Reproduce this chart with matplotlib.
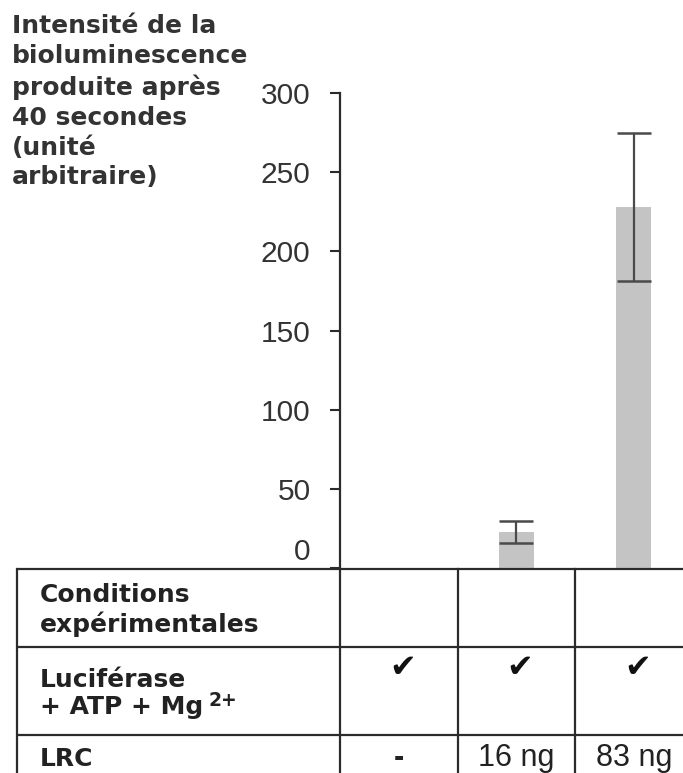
import matplotlib
matplotlib.use("Agg")
import matplotlib.pyplot as plt
import matplotlib.transforms as mtransforms
import numpy as np

# ---- data ----
conditions = ["sans LRC", "16 ng", "83 ng"]
intensity = [0, 23, 228]
error = [0, 7, 47]
yticks = [0, 50, 100, 150, 200, 250, 300]
ylabel_lines = ["Intensité de la", "bioluminescence", "produite après",
                "40 secondes", "(unité", "arbitraire)"]
row1_label = "Conditions\nexpérimentales"
row2_label = ["Luciférase", "+ ATP + Mg", "2+"]
row3_label = "LRC"
luciferase_row = ["✔", "✔", "✔"]
lrc_row = ["-", "16 ng", "83 ng"]

W, H = 683, 773
fig = plt.figure(figsize=(W / 100, H / 100), dpi=100)

def fx(px):
    return px / W

def fy(py):
    return 1 - py / H

ink = "#2b2b2b"
# ---- main bar chart axes ----
ax_l, ax_r, ax_t, ax_b = 340, 683, 93, 568
ax = fig.add_axes([fx(ax_l), fy(ax_b), fx(ax_r - ax_l), (ax_b - ax_t) / H])
colw = 117.5
x = np.arange(len(conditions))
ax.bar(x, intensity, width=0.3, color="#c4c4c4", zorder=1)
mask = np.array(error) > 0
ax.errorbar(x[mask], np.array(intensity)[mask], yerr=np.array(error)[mask],
            fmt="none", ecolor="#4a4a4a", elinewidth=1.6, capsize=12.5,
            capthick=1.8, zorder=2)
ax.set_xlim(-0.5, -0.5 + (ax_r - ax_l) / colw)
ax.set_ylim(0, 300)
ax.set_yticks(yticks)
ax.set_yticklabels([str(t) for t in yticks], fontsize=21.5,
                   family="Liberation Sans", color="#333333")
ax.tick_params(axis="y", length=7.2, width=1.5, color=ink, pad=14)
ax.set_xticks([])
# lift the "0" label above the table's top rule, as in the original
zero_lbl = ax.get_yticklabels()[0]
zero_lbl.set_transform(zero_lbl.get_transform() +
                       mtransforms.ScaledTranslation(0, 19 / 100, fig.dpi_scale_trans))
for s in ["top", "right", "bottom"]:
    ax.spines[s].set_visible(False)
ax.spines["left"].set_color(ink)
ax.spines["left"].set_linewidth(1.6)
ax.patch.set_alpha(0)

# y label block
fig.text(fx(12), fy(14), "\n".join(ylabel_lines), ha="left", va="top",
         fontsize=18, fontweight="bold", family="DejaVu Sans",
         color="#333333", linespacing=1.31)

# ---- table axes (shares column geometry) ----
tl, tt = 17, 569
left_data = -0.5 - (ax_l - tl) / colw
tab = fig.add_axes([fx(tl), 0, fx(W - tl), 1 - tt / H])
tab.set_xlim(left_data, -0.5 + (ax_r - ax_l) / colw)
tab.set_ylim(H, tt)
tab.axis("off")
lw = 1.6
row_edges = [tt, 647, 735]
for yy in row_edges:
    tab.plot([left_data, 3], [yy, yy], color=ink, lw=lw, solid_capstyle="butt",
             clip_on=False)
for xx in [left_data, -0.5, 0.5, 1.5]:
    tab.plot([xx, xx], [tt, H + 5], color=ink, lw=lw, clip_on=False)

tx = left_data + (40 - tl) / colw
tfont = dict(fontsize=18, fontweight="bold", family="DejaVu Sans", color="#222222")
tab.text(tx, 610, row1_label, ha="left", va="center", linespacing=1.2, **tfont)
tab.text(tx, 680, row2_label[0], ha="left", va="center", **tfont)
t2 = tab.text(tx, 707, row2_label[1], ha="left", va="center", **tfont)
tab.annotate(row2_label[2], xy=(1, 1), xycoords=t2, xytext=(4, 3),
             textcoords="offset points", ha="left", va="top", fontsize=13.5,
             fontweight="bold", family="DejaVu Sans", color="#222222")
tab.text(tx, 759, row3_label, ha="left", va="center", **tfont)

for i, c in enumerate(luciferase_row):
    tab.text(x[i] + 0.03, 669, c, ha="center", va="center", fontsize=23,
             family="DejaVu Sans", color="#111111")
for i, c in enumerate(lrc_row):
    tab.text(x[i], 758, c, ha="center", va="center", fontsize=22,
             family="Liberation Sans", color="#222222",
             fontweight="bold" if c == "-" else "normal")

fig.savefig("out.png", dpi=100)
